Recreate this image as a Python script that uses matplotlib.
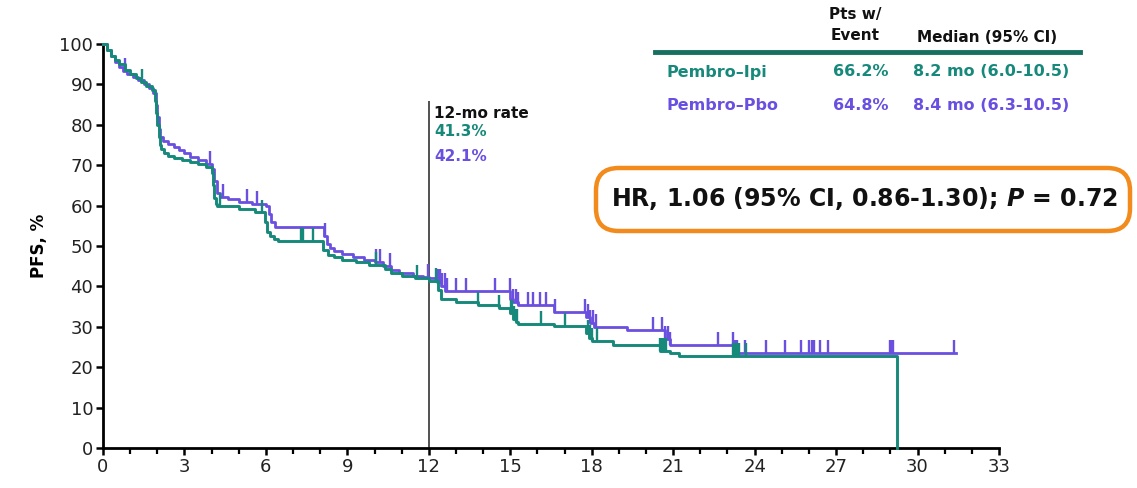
import numpy as np
import matplotlib
matplotlib.use("Agg")
import matplotlib.pyplot as plt
from matplotlib.patches import FancyBboxPatch

# ===========================================================
# colours / fonts
# ===========================================================
TEAL = '#16897A'
PURPLE = '#6A4FE0'
ORANGE = '#F28A1C'
TEXT = '#111111'

plt.rcParams.update({
    'font.family': ['DejaVu Sans'],
    'mathtext.fontset': 'custom',
    'mathtext.it': 'DejaVu Sans:italic:bold',
    'mathtext.rm': 'DejaVu Sans:bold',
})

# ===========================================================
# data (months, PFS %)
# ===========================================================
ipi_t = [0, 0.15, 0.3, 0.45, 0.6, 0.8, 1.0, 1.2, 1.4, 1.6, 1.8, 1.9, 1.95, 2.0,
         2.05, 2.1, 2.15, 2.25, 2.4, 2.6, 2.9, 3.2, 3.5, 3.8, 4.0, 4.05, 4.1,
         4.15, 4.2, 5.0, 5.6, 5.95, 6.05, 6.15, 6.3, 6.45, 8.1, 8.3, 8.5,
         8.8, 9.3, 9.8, 10.4, 10.6, 11.0, 11.5, 12.0, 12.35, 12.45, 13.0,
         13.8, 14.6, 15.0, 15.1, 15.2, 15.3, 16.6, 17.8, 17.9, 18.0, 18.8,
         20.5, 20.9, 21.2, 29.25]
ipi_s = [100, 98.5, 97, 96, 95, 93.5, 92.5, 91.5, 90.5, 89.5, 88.5, 86, 83, 80,
         77, 75, 74, 73, 72.3, 71.8, 71.2, 70.8, 70.2, 69.6, 68, 65, 62,
         60.5, 59.8, 59.2, 58.3, 56, 53.5, 52.5, 51.8, 51.3, 49, 47.8, 47.3,
         46.6, 46.0, 45.2, 44.2, 43.3, 42.6, 42.0, 41.3, 39.0, 36.8, 36.2,
         35.4, 34.6, 33.5, 32.0, 31.2, 30.8, 30.2, 28.5, 27.2, 26.6, 25.6,
         24.0, 23.6, 22.7, 0]
ipi_cens = [1.42, 4.3, 5.84, 7.3, 7.36, 7.73, 10.07, 11.55, 12.28, 13.8, 14.6,
            15.02, 15.08, 15.14, 15.2, 15.26, 16.15, 17.0, 17.85, 17.92, 18.0,
            18.2, 20.5, 20.58, 20.66, 20.74, 23.2, 23.28, 23.36, 23.44, 23.7]

pbo_t = [0, 0.15, 0.3, 0.45, 0.6, 0.75, 0.9, 1.1, 1.3, 1.5, 1.7, 1.85, 1.95,
         2.0, 2.05, 2.1, 2.2, 2.4, 2.6, 2.8, 3.0, 3.2, 3.5, 3.8, 4.0, 4.1,
         4.2, 4.3, 4.6, 5.0, 5.5, 6.0, 6.1, 6.2, 6.35, 8.15, 8.25, 8.35, 8.5,
         8.8, 9.2, 9.6, 10.0, 10.3, 10.6, 10.9, 11.4, 11.8, 12.0, 12.3, 12.45,
         12.6, 15.0, 15.1, 15.3, 16.6, 17.8, 17.95, 18.1, 19.3, 20.7, 20.9,
         23.25]
pbo_s = [100, 98.5, 97, 95.5, 94.3, 93.3, 92.5, 91.8, 91, 90, 89, 87.8, 85,
         82, 79, 77, 76, 75.3, 74.6, 73.8, 73, 72.1, 71.2, 70.2, 69, 66, 63,
         62.2, 61.6, 61, 60.5, 59.8, 58, 56, 54.7, 52.5, 50.5, 49.4, 48.7, 48,
         47.3, 46.6, 46, 45, 44, 43.2, 42.6, 42.3, 42.1, 41, 40, 38.9, 37,
         36.2, 35.4, 33.7, 32.5, 31, 30, 29.2, 27, 25.5, 23.6]
pbo_end = 31.4
pbo_cens = [0.8, 3.94, 4.43, 5.29, 5.66, 8.17, 10.07, 10.2, 10.56, 11.97,
            12.3, 12.36, 12.42, 12.5, 12.58, 12.66, 13.0, 13.38, 14.43, 14.98,
            15.1, 15.2, 15.3, 15.65, 15.83, 16.08, 16.33, 16.64, 17.74, 17.85,
            17.95, 18.05, 18.15, 20.25, 20.6, 20.7, 20.8, 20.9, 22.64, 23.2,
            23.28, 23.36, 23.63, 24.43, 25.1, 25.7, 26.0, 26.1, 26.2, 26.4,
            26.7, 28.97, 29.03, 29.08, 31.36]

rate_ipi = '41.3%'
rate_pbo = '42.1%'
table_rows = [('Pembro\u2013Ipi', '66.2%', '8.2 mo (6.0-10.5)', TEAL),
              ('Pembro\u2013Pbo', '64.8%', '8.4 mo (6.3-10.5)', PURPLE)]


def surv_at(times, surv, t):
    idx = np.searchsorted(times, t, side='right') - 1
    return np.asarray(surv)[idx]


# ===========================================================
# figure
# ===========================================================
fig = plt.figure(figsize=(11.37, 4.88), dpi=100)
ax = fig.add_axes([103 / 1137, 40 / 488, 896 / 1137, 404 / 488])

# Pbo first (under), then Ipi
pt = pbo_t + [pbo_end]
ps = pbo_s + [pbo_s[-1]]
ax.step(pt, ps, where='post', color=PURPLE, lw=2.0, clip_on=False, zorder=3)
ax.step(ipi_t, ipi_s, where='post', color=TEAL, lw=2.1, clip_on=False, zorder=4)

tick_h = 3.2
cs = surv_at(pt, ps, pbo_cens)
ax.vlines(pbo_cens, cs, cs + tick_h, color=PURPLE, lw=1.7, zorder=3)
cs = surv_at(ipi_t, ipi_s, ipi_cens)
ax.vlines(ipi_cens, cs, cs + tick_h, color=TEAL, lw=1.7, zorder=4)

# 12-month marker
ax.vlines(12, 0, 86, color='#333333', lw=1.2, zorder=2)
ax.text(12.2, 82.9, '12-mo rate', fontsize=11, fontweight='bold',
        color=TEXT, va='center', ha='left')
ax.text(12.2, 78.3, rate_ipi, fontsize=11, fontweight='bold',
        color=TEAL, va='center', ha='left')
ax.text(12.2, 72.2, rate_pbo, fontsize=11, fontweight='bold',
        color=PURPLE, va='center', ha='left')

# axes styling
ax.set_xlim(0, 33)
ax.set_ylim(0, 100)
ax.set_xticks(np.arange(0, 34, 3))
ax.set_xticks(np.arange(0, 34, 1), minor=True)
ax.set_yticks(np.arange(0, 101, 10))
for s in ['top', 'right']:
    ax.spines[s].set_visible(False)
for s in ['left', 'bottom']:
    ax.spines[s].set_linewidth(2.0)
    ax.spines[s].set_color('black')
ax.tick_params(which='major', length=5, width=1.8, labelsize=13,
               labelcolor='#222222', pad=2)
ax.tick_params(which='minor', length=4, width=1.6)
ax.set_ylabel('PFS, %', fontsize=12, fontweight='bold', labelpad=8)

# table (top right)
fig.add_artist(plt.Line2D([655 / 1137, 1080 / 1137], [1 - 52 / 488, 1 - 52 / 488],
                          color='#17705F', lw=3.5))
fig.text(855 / 1137, 1 - 25 / 488, 'Pts w/\nEvent', ha='center', va='center',
         fontsize=11, fontweight='bold', color=TEXT, linespacing=1.5)
fig.text(987 / 1137, 1 - 37 / 488, 'Median (95% CI)', ha='center', va='center',
         fontsize=11, fontweight='bold', color=TEXT)
for i, (name, pct, med, col) in enumerate(table_rows):
    y = 1 - (72 + 33 * i) / 488
    fig.text(667 / 1137, y, name, ha='left', va='center', fontsize=11.5,
             fontweight='bold', color=col)
    fig.text(833 / 1137, y, pct, ha='left', va='center', fontsize=11.5,
             fontweight='bold', color=col)
    fig.text(913 / 1137, y, med, ha='left', va='center', fontsize=11.5,
             fontweight='bold', color=col)

# HR box
box = FancyBboxPatch((596 / 1137, 1 - 231 / 488), 534 / 1137, 63 / 488,
                     boxstyle='round,pad=0,rounding_size=0.02',
                     transform=fig.transFigure, facecolor='white',
                     edgecolor=ORANGE, lw=3.2, mutation_aspect=2.3)
fig.add_artist(box)
fig.text(864 / 1137, 1 - 199 / 488,
         'HR, 1.06 (95% CI, 0.86-1.30); $P$ = 0.72',
         ha='center', va='center', fontsize=17, fontweight='bold',
         color=TEXT)

fig.savefig('out.png', dpi=100)
